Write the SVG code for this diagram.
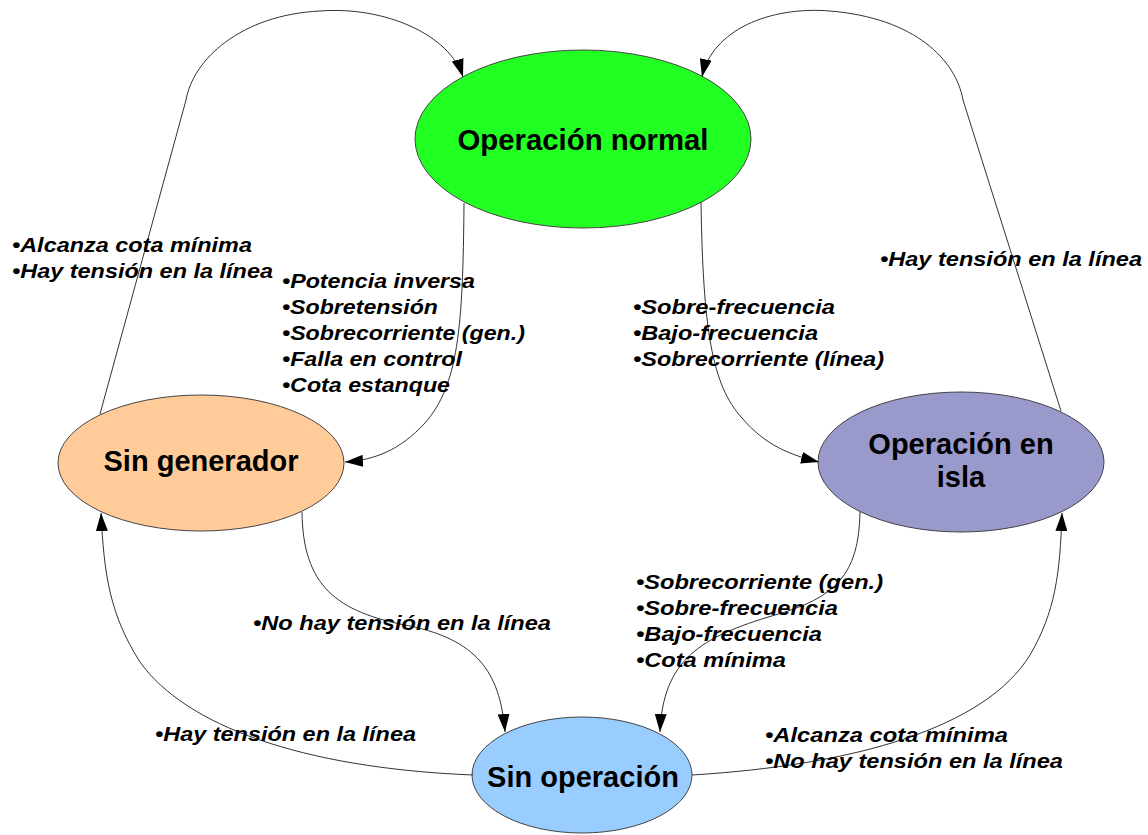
<svg xmlns="http://www.w3.org/2000/svg" width="1148" height="835" viewBox="0 0 1148 835">
  <defs>
    <marker id="arrow" markerUnits="userSpaceOnUse" markerWidth="18" markerHeight="12" refX="18" refY="6" orient="auto">
      <path d="M0,0 L18,6 L0,12 z" fill="#000"/>
    </marker>
    <style>
      .node { stroke: #444; stroke-width: 1; }
      .node-label { font-family: "Liberation Sans", Arial, sans-serif; font-weight: bold; font-size: 29px; fill: #000; text-anchor: middle; }
      .edge { fill: none; stroke: #333; stroke-width: 1; marker-end: url(#arrow); }
      .cond { font-family: "Liberation Sans", Arial, sans-serif; font-weight: bold; font-style: italic; font-size: 19.5px; fill: #000; }
    </style>
  </defs>

  <rect width="1148" height="835" fill="#fff"/>

  <!-- States -->
  <g id="operacion-normal">
    <ellipse class="node" cx="583" cy="139" rx="168" ry="89" fill="#22ff22"/>
    <text class="node-label" x="583" y="150" textLength="251" lengthAdjust="spacingAndGlyphs">Operación normal</text>
  </g>
  <g id="sin-generador">
    <ellipse class="node" cx="201" cy="463" rx="143" ry="68" fill="#ffcc99"/>
    <text class="node-label" x="201" y="471">Sin generador</text>
  </g>
  <g id="operacion-en-isla">
    <ellipse class="node" cx="961" cy="462" rx="143" ry="70" fill="#9999cc"/>
    <text class="node-label" x="961" y="454">Operación en</text>
    <text class="node-label" x="961" y="487">isla</text>
  </g>
  <g id="sin-operacion">
    <ellipse class="node" cx="582" cy="775" rx="110" ry="58" fill="#99ccff"/>
    <text class="node-label" x="583" y="787">Sin operación</text>
  </g>

  <!-- Transitions -->
  <g id="connectors">
    <path class="edge" d="M100,414 L186,100 C193,60 240,15 320,11 C385,6 450,35 463,77"/>
    <path class="edge" d="M1061,411 L963,100 C956,60 915,18 830,11 C770,6 712,30 702,77"/>
    <path class="edge" d="M464,203 C463,330 458,385 425,423 C400,450 375,460 345,462"/>
    <path class="edge" d="M701,202 C703,330 712,385 742,418 C765,445 790,455 819,462"/>
    <path class="edge" d="M302,512 C303,585 335,612 410,626 C475,640 500,670 505,732"/>
    <path class="edge" d="M473,775 C300,768 185,725 140,662 C110,615 104,575 101,513"/>
    <path class="edge" d="M860,512 C859,575 835,598 775,615 C700,637 663,660 660,732"/>
    <path class="edge" d="M692,775 C855,765 985,728 1030,655 C1055,612 1060,575 1062,513"/>
  </g>

  <!-- Transition conditions -->
  <g id="conditions">
    <text class="cond" x="12" y="252" textLength="240" lengthAdjust="spacingAndGlyphs">•Alcanza cota mínima</text>
    <text class="cond" x="12" y="278" textLength="261" lengthAdjust="spacingAndGlyphs">•Hay tensión en la línea</text>

    <text class="cond" x="282" y="288" textLength="193" lengthAdjust="spacingAndGlyphs">•Potencia inversa</text>
    <text class="cond" x="282" y="314" textLength="156" lengthAdjust="spacingAndGlyphs">•Sobretensión</text>
    <text class="cond" x="282" y="340" textLength="243" lengthAdjust="spacingAndGlyphs">•Sobrecorriente (gen.)</text>
    <text class="cond" x="282" y="366" textLength="180" lengthAdjust="spacingAndGlyphs">•Falla en control</text>
    <text class="cond" x="282" y="392" textLength="168" lengthAdjust="spacingAndGlyphs">•Cota estanque</text>

    <text class="cond" x="880" y="266" textLength="262" lengthAdjust="spacingAndGlyphs">•Hay tensión en la línea</text>

    <text class="cond" x="633" y="314" textLength="202" lengthAdjust="spacingAndGlyphs">•Sobre-frecuencia</text>
    <text class="cond" x="633" y="340" textLength="185" lengthAdjust="spacingAndGlyphs">•Bajo-frecuencia</text>
    <text class="cond" x="633" y="366" textLength="251" lengthAdjust="spacingAndGlyphs">•Sobrecorriente (línea)</text>

    <text class="cond" x="636" y="589" textLength="247" lengthAdjust="spacingAndGlyphs">•Sobrecorriente (gen.)</text>
    <text class="cond" x="636" y="615" textLength="202" lengthAdjust="spacingAndGlyphs">•Sobre-frecuencia</text>
    <text class="cond" x="636" y="641" textLength="186" lengthAdjust="spacingAndGlyphs">•Bajo-frecuencia</text>
    <text class="cond" x="636" y="667" textLength="150" lengthAdjust="spacingAndGlyphs">•Cota mínima</text>

    <text class="cond" x="253" y="630" textLength="298" lengthAdjust="spacingAndGlyphs">•No hay tensión en la línea</text>
    <text class="cond" x="155" y="741" textLength="261" lengthAdjust="spacingAndGlyphs">•Hay tensión en la línea</text>

    <text class="cond" x="765" y="742" textLength="243" lengthAdjust="spacingAndGlyphs">•Alcanza cota mínima</text>
    <text class="cond" x="765" y="768" textLength="298" lengthAdjust="spacingAndGlyphs">•No hay tensión en la línea</text>
  </g>
</svg>
